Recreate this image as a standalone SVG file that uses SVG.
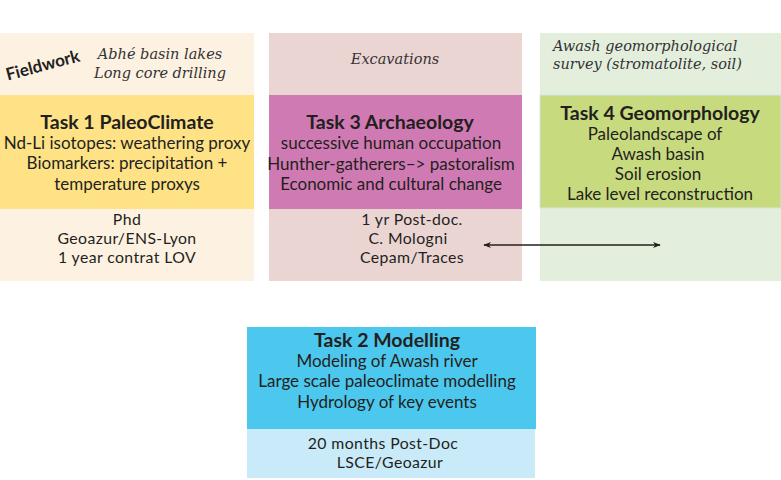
<svg xmlns="http://www.w3.org/2000/svg" width="781" height="480" viewBox="0 0 781 480">
<style>
text{font-family:"Lato","Open Sans",sans-serif;fill:#231F20;font-size:17px;text-anchor:middle}
.h{font-weight:bold;font-size:19.5px}
.s{font-size:15.8px;letter-spacing:0.4px}
.i{font-family:"DejaVu Serif","Liberation Serif",serif;font-style:italic;font-size:14.5px;fill:#333}
.l{text-anchor:start}
</style>
<defs>
<marker id="ah" viewBox="0 0 10 10" refX="9" refY="5" markerWidth="8" markerHeight="8" orient="auto-start-reverse" markerUnits="userSpaceOnUse">
<path d="M0,1 L10,5 L0,9 L3,5 z" fill="#231F20"/>
</marker>
</defs>
<rect width="781" height="480" fill="#fff"/>
<g id="task1">
<rect x="0" y="33" width="254" height="248" fill="#FDF1E2"/>
<rect x="0" y="95" width="254" height="114" fill="#FEE285"/>
<text class="i" x="160" y="59">Abhé basin lakes</text>
<text class="i" x="160" y="78">Long core drilling</text>
<text x="43" y="71" font-weight="bold" font-size="16.5" transform="rotate(-15 43 66)">Fieldwork</text>
<text class="h" x="127" y="129">Task 1 PaleoClimate</text>
<text x="127" y="149">Nd-Li isotopes: weathering proxy</text>
<text x="127" y="169">Biomarkers: precipitation +</text>
<text x="127" y="190">temperature proxys</text>
<text class="s" x="127" y="225">Phd</text>
<text class="s" x="127" y="244">Geoazur/ENS-Lyon</text>
<text class="s" x="127" y="263">1 year contrat LOV</text>
</g>
<g id="task3">
<rect x="269" y="33" width="253" height="248" fill="#EBD5D3"/>
<rect x="269" y="95" width="253" height="114" fill="#D07AB3"/>
<text class="i" x="395" y="64">Excavations</text>
<text class="h" x="390" y="129">Task 3 Archaeology</text>
<text x="391" y="149">successive human occupation</text>
<text x="391" y="170">Hunther-gatherers–&gt; pastoralism</text>
<text x="391" y="190">Economic and cultural change</text>
<text class="s" x="412" y="225">1 yr Post-doc.</text>
<text class="s" x="408" y="244">C. Mologni</text>
<text class="s" x="412" y="263">Cepam/Traces</text>
</g>
<g id="task4">
<rect x="540" y="33" width="241" height="248" fill="#E3EEDD"/>
<rect x="540" y="95" width="241" height="113" fill="#C7DA7E" stroke="#CFE6E8" stroke-width="1"/>
<text class="i l" x="553" y="51">Awash geomorphological</text>
<text class="i l" x="553" y="69">survey (stromatolite, soil)</text>
<text class="h" x="660" y="120">Task 4 Geomorphology</text>
<text x="655" y="140">Paleolandscape of</text>
<text x="658" y="160">Awash basin</text>
<text x="658" y="180">Soil erosion</text>
<text x="660" y="200">Lake level reconstruction</text>
</g>
<g id="task2">
<rect x="247" y="327" width="289" height="102" fill="#4CC7EE"/>
<rect x="247" y="429" width="288" height="49" fill="#C9EAF8"/>
<text class="h" x="387" y="347">Task 2 Modelling</text>
<text x="387" y="367">Modeling of Awash river</text>
<text x="387" y="387">Large scale paleoclimate modelling</text>
<text x="387" y="408">Hydrology of key events</text>
<text class="s" x="383" y="449">20 months Post-Doc</text>
<text class="s" x="390" y="468">LSCE/Geoazur</text>
</g>
<g id="connectors">
<line x1="484" y1="245" x2="660" y2="245" stroke="#231F20" stroke-width="1.6" marker-start="url(#ah)" marker-end="url(#ah)"/>
</g>
</svg>
